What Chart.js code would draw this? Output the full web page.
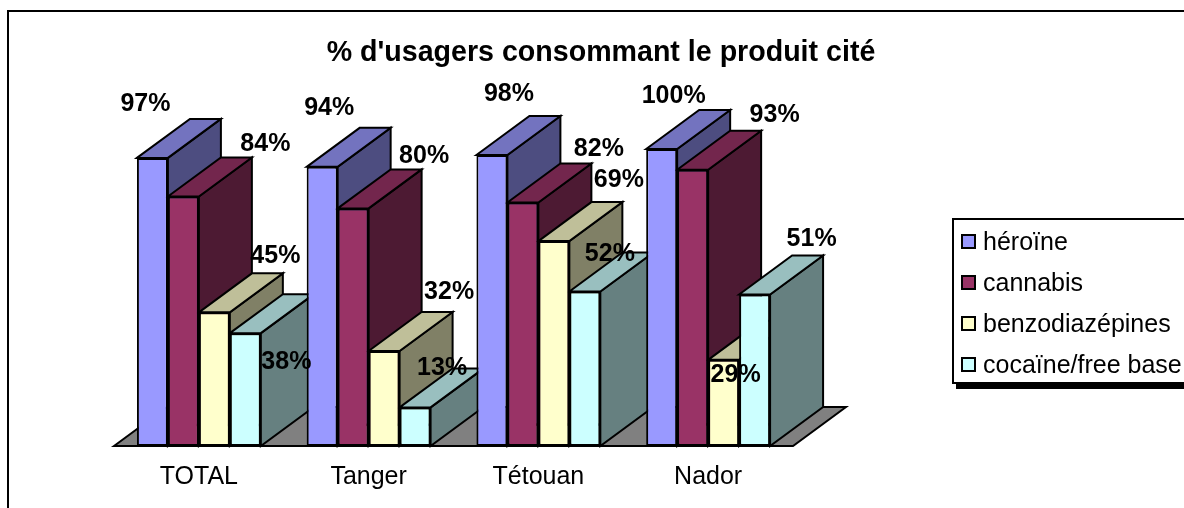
<!DOCTYPE html>
<html>
<head>
<meta charset="utf-8">
<style>
  html, body { margin: 0; padding: 0; background: #fff; }
  #wrap { width: 1184px; height: 508px; position: relative; overflow: hidden; }
</style>
<script src="https://cdn.jsdelivr.net/npm/chart.js@4"></script>
</head>
<body>
<div id="wrap"><canvas id="chart" width="1184" height="508"></canvas></div>
<script>
const titleText = "% d'usagers consommant le produit cité";
const categories = ['TOTAL', 'Tanger', 'Tétouan', 'Nador'];
const heroine = [97, 94, 98, 100];
const cannabis = [84, 80, 82, 93];
const benzo = [45, 32, 69, 29];
const cocaine = [38, 13, 52, 51];

const seriesNames = ['héroïne', 'cannabis', 'benzodiazépines', 'cocaïne/free base'];
const frontColors = ['#9999ff', '#993366', '#ffffcc', '#ccffff'];
const topColors = ['#7373bf', '#73264d', '#bfbf99', '#99bfbf'];
const sideColors = ['#4d4d80', '#4d1a33', '#808066', '#668080'];

// hand placed labels in the original, offsets from the top centre of each bar
const labelOffsets = [
  [[-7, -54], [7, -59], [17, -61], [12, -53]],
  [[82, -52], [71, -52], [76, -53], [82, -55]],
  [[61, -56], [65, -59], [65, -61], [12, 15]],
  [[41, 29], [27, -39], [25, -37], [57, -55]]
];

const depthX = 53;
const depthY = 39;
const FONT = '"Liberation Sans", Arial, sans-serif';

function poly(ctx, pts, fill) {
  ctx.beginPath();
  pts.forEach((p, i) => i ? ctx.lineTo(p[0], p[1]) : ctx.moveTo(p[0], p[1]));
  ctx.closePath();
  ctx.fillStyle = fill;
  ctx.fill();
  ctx.stroke();
}

const depthPlugin = {
  id: 'depth',
  beforeDraw(chart) {
    const ctx = chart.ctx;
    ctx.save();
    ctx.fillStyle = '#fff';
    ctx.fillRect(0, 0, chart.width, chart.height);
    // frame round the whole picture, only top and left are in view
    ctx.strokeStyle = '#000';
    ctx.lineWidth = 2;
    ctx.strokeRect(8, 11, 1300, 600);
    ctx.restore();
  },
  beforeDatasetsDraw(chart) {
    const ctx = chart.ctx;
    const area = chart.chartArea;
    ctx.save();
    ctx.strokeStyle = '#000';
    ctx.lineWidth = 2;
    ctx.lineJoin = 'miter';
    poly(ctx, [
      [area.left, area.bottom],
      [area.left + depthX, area.bottom - depthY],
      [area.right + depthX, area.bottom - depthY],
      [area.right, area.bottom]
    ], '#808080');
    categories.forEach((c, i) => {
      chart.data.datasets.forEach((ds, d) => {
        const bar = chart.getDatasetMeta(d).data[i];
        const l = bar.x - bar.width / 2;
        const r = bar.x + bar.width / 2;
        poly(ctx, [[r, bar.y], [r + depthX, bar.y - depthY], [r + depthX, bar.base - depthY], [r, bar.base]], sideColors[d]);
        poly(ctx, [[l, bar.y], [l + depthX, bar.y - depthY], [r + depthX, bar.y - depthY], [r, bar.y]], topColors[d]);
      });
    });
    ctx.restore();
  },
  afterDatasetsDraw(chart) {
    const ctx = chart.ctx;
    ctx.save();
    ctx.fillStyle = '#000';
    ctx.textAlign = 'center';
    ctx.textBaseline = 'middle';
    ctx.font = 'bold 25px ' + FONT;
    chart.data.datasets.forEach((ds, d) => {
      ds.data.forEach((v, i) => {
        const bar = chart.getDatasetMeta(d).data[i];
        const off = labelOffsets[d][i];
        ctx.fillText(v + '%', bar.x + off[0], bar.y + off[1]);
      });
    });
    ctx.font = 'bold 28.6px ' + FONT;
    ctx.fillText(titleText, 601, 53);

    // legend box
    ctx.strokeStyle = '#000';
    ctx.fillStyle = '#000';
    ctx.fillRect(956, 222, 300, 167);
    ctx.fillStyle = '#fff';
    ctx.lineWidth = 2;
    ctx.fillRect(953, 219, 300, 164);
    ctx.strokeRect(953, 219, 300, 164);
    ctx.textAlign = 'left';
    ctx.font = '25px ' + FONT;
    seriesNames.forEach((name, d) => {
      const y = 234 + d * 41;
      ctx.fillStyle = frontColors[d];
      ctx.fillRect(962, y + 1, 13, 13);
      ctx.strokeRect(962, y + 1, 13, 13);
      ctx.fillStyle = '#000';
      ctx.fillText(name, 983, y + 9);
    });
    ctx.restore();
  }
};

new Chart(document.getElementById('chart'), {
  type: 'bar',
  data: {
    labels: categories,
    datasets: [heroine, cannabis, benzo, cocaine].map((values, d) => ({
      label: seriesNames[d],
      data: values,
      backgroundColor: frontColors[d],
      borderColor: '#000',
      borderWidth: 2,
      borderSkipped: false,
      categoryPercentage: 0.73,
      barPercentage: 1,
      clip: false
    }))
  },
  options: {
    responsive: false,
    animation: false,
    layout: { padding: { left: 114, right: 391, top: 149, bottom: 0 } },
    plugins: { legend: { display: false }, tooltip: { enabled: false } },
    scales: {
      x: {
        grid: { display: false },
        border: { display: false },
        afterFit(scale) { scale.height = 62; },
        ticks: { color: '#000', padding: 8, maxRotation: 0, font: { family: FONT, size: 25 } }
      },
      y: { display: false, min: 0, max: 100 }
    }
  },
  plugins: [depthPlugin]
});
</script>
</body>
</html>
